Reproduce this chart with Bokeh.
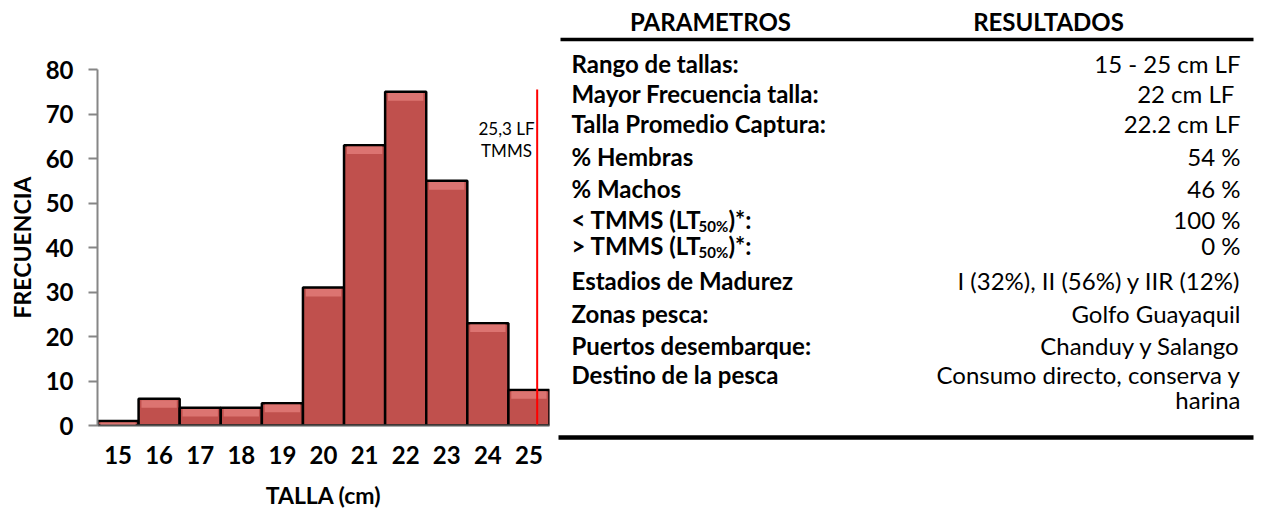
import math
from bokeh.plotting import figure
from bokeh.models import Range1d, FixedTicker
from bokeh.embed import file_html
from bokeh.resources import INLINE
from bokeh.core.properties import value

# ---------------- data ----------------
tallas = [15, 16, 17, 18, 19, 20, 21, 22, 23, 24, 25]
frecuencia = [1, 6, 4, 4, 5, 31, 63, 75, 55, 23, 8]
y_ticks = [0, 10, 20, 30, 40, 50, 60, 70, 80]
tmms_x = 25.2
tmms_top = 75.5
tmms_text = ["25,3 LF", "TMMS"]
x_title = "TALLA (cm)"
y_title = "FRECUENCIA"

header = ["PARAMETROS", "RESULTADOS"]
parametros = ["Rango de tallas:", "Mayor Frecuencia talla:", "Talla Promedio Captura:",
              "% Hembras", "% Machos", "< TMMS (LT", "> TMMS (LT",
              "Estadios de Madurez", "Zonas pesca:", "Puertos desembarque:",
              "Destino de la pesca"]
resultados = ["15 - 25 cm LF", "22  cm LF", "22.2 cm LF", "54 %", "46 %", "100 %", "0 %",
              "I (32%), II (56%) y IIR (12%)", "Golfo Guayaquil", "Chanduy y Salango",
              "Consumo directo, conserva y", "harina"]
subindice = "50%"
sufijo = ")*:"

FONT = "Lato"
W, H = 1262, 511
FX0, FX1, FY0, FY1 = 97, 549, 69, 425   # frame edges in page pixels

# ---------------- chart ----------------
p = figure(width=W, height=H, x_range=Range1d(14.5, 25.5), y_range=Range1d(0, 80),
           toolbar_location=None, output_backend="svg",
           min_border_left=FX0, min_border_right=W - FX1,
           min_border_top=FY0, min_border_bottom=H - FY1)
p.extra_x_ranges = {"px": Range1d(FX0, FX1)}
p.extra_y_ranges = {"px": Range1d(FY1, FY0)}
p.grid.visible = False
p.outline_line_color = None

left = [t - 0.5 for t in tallas]
right = [t + 0.5 for t in tallas]
p.quad(left=left, right=right, top=frecuencia, bottom=0,
       fill_color="#C0504D", line_color="black", line_width=2.5)
# light bevel at top of each bar
p.quad(left=[l + 0.07 for l in left], right=[r - 0.07 for r in right],
       top=[max(f - 0.3, 0) for f in frecuencia],
       bottom=[max(f - 2.0, 0) for f in frecuencia],
       fill_color="#DC7471", line_color=None)
p.segment(x0=[tmms_x], y0=[0], x1=[tmms_x], y1=[tmms_top], line_color="red", line_width=2)

p.xaxis.ticker = FixedTicker(ticks=tallas)
p.xaxis.major_tick_out = 0
p.xaxis.major_tick_in = 0
p.xaxis.minor_tick_out = 0
p.xaxis.minor_tick_in = 0
p.xaxis.major_label_standoff = 20
p.xaxis.axis_line_color = "#555555"
p.xaxis.axis_line_width = 2

p.yaxis.ticker = FixedTicker(ticks=y_ticks)
p.yaxis.major_tick_out = 9
p.yaxis.major_tick_in = 0
p.yaxis.minor_tick_out = 0
p.yaxis.minor_tick_in = 0
p.yaxis.major_tick_line_color = "#868686"
p.yaxis.major_tick_line_width = 2
p.yaxis.axis_line_color = "#868686"
p.yaxis.axis_line_width = 2
p.yaxis.major_label_standoff = 15

for ax in (p.xaxis, p.yaxis):
    ax.major_label_text_font = FONT
    ax.major_label_text_font_style = "bold"
    ax.major_label_text_font_size = "24px"
    ax.major_label_text_color = "black"

kw = dict(x_range_name="px", y_range_name="px", level="overlay")

def px_text(xs, ys, texts, size, bold=False, angle=0.0, align="center"):
    p.text(x=xs, y=ys, text=texts, angle=angle, text_align=align, text_baseline="middle",
           text_font=value(FONT), text_font_style="bold" if bold else "normal",
           text_font_size=size, text_color="black", **kw)

px_text([323], [494], [x_title], "23px", bold=True)
px_text([21], [247], [y_title], "23px", bold=True, angle=math.pi / 2)
px_text([506, 506], [128, 150], tmms_text, "17px")

# ---------------- table (drawn in page-pixel coordinates) ----------------
row_y = [63, 93, 123, 156, 188, 219, 245, 280, 313, 345, 374, 399]
x_left, x_right = 571, 1240

px_text([710, 1048], [21, 21], header, "24px", bold=True)
p.segment(x0=[560, 558], y0=[39, 437], x1=[1253, 1253], y1=[39, 437],
          line_color="black", line_width=[3.5, 4.5], **kw)

px_text([x_left] * len(parametros), row_y[:len(parametros)], parametros, "24px",
        bold=True, align="left")
sub_rows = [row_y[5], row_y[6]]
px_text([x_left + 127] * 2, [y + 6 for y in sub_rows], [subindice] * 2, "15px",
        bold=True, align="left")
px_text([x_left + 157] * 2, sub_rows, [sufijo] * 2, "24px", bold=True, align="left")

px_text([x_right] * len(resultados), row_y[:len(resultados)], resultados, "24px",
        align="right")

open("out.html", "w").write(file_html(p, INLINE))
